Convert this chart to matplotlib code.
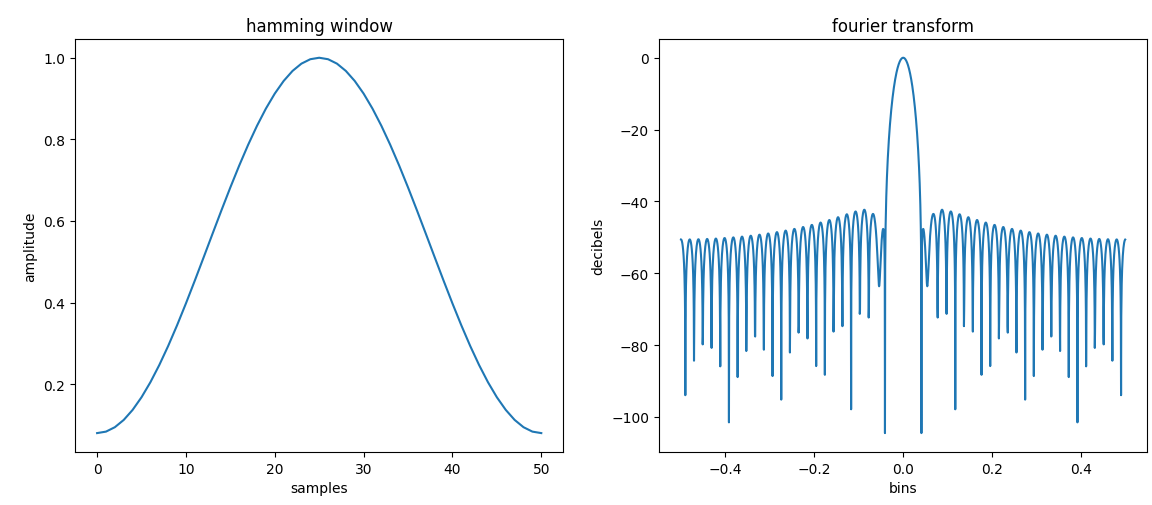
import numpy as np
import matplotlib

matplotlib.use("Agg")
import matplotlib.pyplot as plt

# 51-point hamming window samples (symmetric)
window = [
    0.080000, 0.083627, 0.094452, 0.112303, 0.136899, 0.167852, 0.204674,
    0.246785, 0.293520, 0.344142, 0.397852, 0.453805, 0.511116, 0.568884,
    0.626195, 0.682148, 0.735858, 0.786480, 0.833215, 0.875326, 0.912148,
    0.943101, 0.967697, 0.985548, 0.996373, 1.000000, 0.996373, 0.985548,
    0.967697, 0.943101, 0.912148, 0.875326, 0.833215, 0.786480, 0.735858,
    0.682148, 0.626195, 0.568884, 0.511116, 0.453805, 0.397852, 0.344142,
    0.293520, 0.246785, 0.204674, 0.167852, 0.136899, 0.112303, 0.094452,
    0.083627, 0.080000,
]
fft_size = 2048

w = np.array(window)
# normalise so the main lobe peaks at 0 dB
spectrum = np.fft.fft(w, fft_size) / w.sum()
mag = np.abs(np.fft.fftshift(spectrum))
freq = np.linspace(-0.5, 0.5, len(spectrum))
response = 20 * np.log10(mag)

fig, (ax1, ax2) = plt.subplots(1, 2, figsize=(11.52, 5.06), dpi=100)
fig.subplots_adjust(left=0.065, right=0.996, bottom=0.105, top=0.921, wspace=0.195)

ax1.plot(w)
ax1.set_title("hamming window")
ax1.set_ylabel("amplitude")
ax1.set_xlabel("samples")

ax2.plot(freq, response)
ax2.set_title("fourier transform")
ax2.set_ylabel("decibels")
ax2.set_xlabel("bins")

fig.savefig("out.png", dpi=100)
